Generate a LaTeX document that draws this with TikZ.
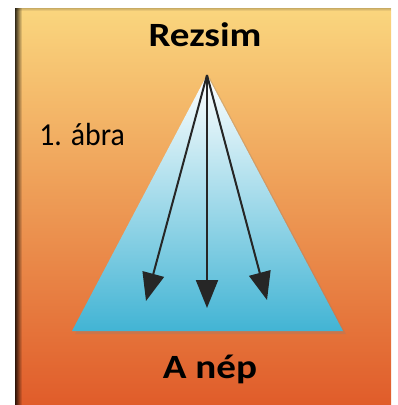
\documentclass[tikz,border=0pt]{standalone}
\usepackage{fontspec}
\setmainfont{Carlito}
\usepackage{tikz}
\usetikzlibrary{arrows.meta,shadows,fadings}

\definecolor{bgtop}{RGB}{250,214,126}
\definecolor{bgmid}{RGB}{240,162,84}
\definecolor{bgbot}{RGB}{224,92,42}
\definecolor{trimid}{RGB}{142,206,228}
\definecolor{tribot}{RGB}{66,180,212}

\begin{document}
\begin{tikzpicture}[x=1pt, y=-1pt, thick]
\tikzstyle{heading} = [font=\fontsize{34}{40}\selectfont\bfseries, xscale=1.15, anchor=base, inner sep=0pt]
\tikzstyle{figlabel} = [font=\fontsize{32}{38}\selectfont, xscale=0.93, anchor=base west, inner sep=0pt]
\tikzstyle{arrow} = [line width=2pt, draw=black!85, -{Triangle[length=28pt,width=22pt]}]

\useasboundingbox (0,0) rectangle (398,405);

% background
\shade [top color=bgtop, middle color=bgmid, bottom color=bgbot] (15,8) rectangle (391,405);
\fill [black, path fading=east, opacity=0.8] (15,8) rectangle (22,405);
\fill [black, path fading=south, opacity=0.2] (15,8) rectangle (391,11);

% pyramid
\coordinate (apex) at (207,75);
\coordinate (baseL) at (72,331);
\coordinate (baseR) at (343,331);
\shade [top color=white, middle color=trimid, bottom color=tribot,
  drop shadow={opacity=0.25, shadow xshift=3pt, shadow yshift=-3pt}]
  (apex) -- (baseR) -- (baseL) -- cycle;

\coordinate (tipL) at (146,301);
\coordinate (tipM) at (207,308);
\coordinate (tipR) at (267,300);

\draw [arrow] (apex) -- (tipL);
\draw [arrow] (apex) -- (tipM);
\draw [arrow] (apex) -- (tipR);

% labels
\node [heading] (regime) at (205,46) {Rezsim};
\node [heading] (people) at (210,378) {A nép};
\node [figlabel] (fig) at (39,145) {1. ábra};
\end{tikzpicture}
\end{document}
